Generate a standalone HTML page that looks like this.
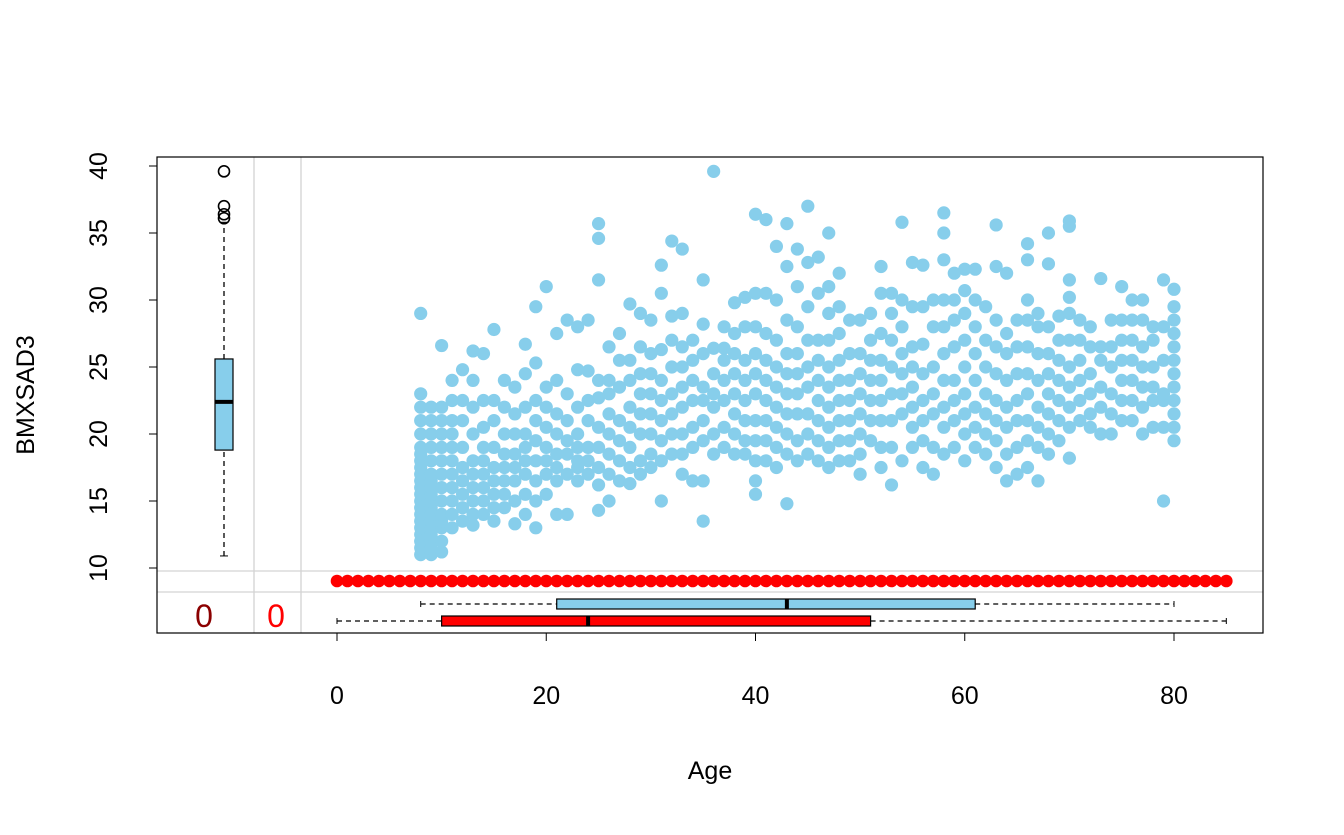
<!DOCTYPE html>
<html><head><meta charset="utf-8"><style>
html,body{margin:0;padding:0;background:#fff;}
svg text{font-family:"Liberation Sans",sans-serif;}
</style></head><body>
<svg id="chart" width="1344" height="830" xmlns="http://www.w3.org/2000/svg">
<rect width="1344" height="830" fill="#fff"/>
<g id="grid"></g>
<g id="pts"></g>
<g id="marg"></g>
<rect x="157" y="157" width="1106" height="476" fill="none" stroke="#000" stroke-width="1.2"/>
<g id="axes"></g>
<text x="0" y="0" transform="translate(34,395) rotate(-90)" text-anchor="middle" font-size="25">BMXSAD3</text>
<text x="710" y="779" text-anchor="middle" font-size="25">Age</text>
<text x="204" y="627" text-anchor="middle" font-size="32" fill="#8B0000">0</text>
<text x="276" y="627" text-anchor="middle" font-size="32" fill="#FF0000">0</text>
</svg>
<script>
const xTicks=[0,20,40,60,80];
const yTicks=[10,15,20,25,30,35,40];
const startAge=8;
const valsByAge=[
"11 11.5 12 12.5 13 13.5 14 14.5 15 15.5 16 16.5 17 17.5 18 18.5 19 20 21 22 23 29",
"11 11.5 12 12.5 13 13.5 14 14.5 15 15.5 16 16.5 17 18 19 20 21 22",
"11.2 12 13 13.5 14 15 16 17 18 19 20 21 22 26.6",
"13 14 15 16 17 18 19 20 21 22.5 24",
"13.5 14.5 15.5 16.5 17.5 19 21 22.5 24.8",
"13.2 14 15 16 17 18 20 22 24 26.2",
"14 15 16 17 18 19 20.5 22.5 26",
"13.5 14.5 15.5 16.5 17.5 19 21 22.5 27.8",
"14.5 15.5 16.5 17.5 18.5 20 22 24",
"13.3 15 16.5 17.5 18.5 20 21.5 23.5",
"14 15.5 17 18 19 20 22 24.5 26.7",
"13 15 16.5 18 19.5 21 22.5 25.3 29.5",
"15.5 17 18 19 20.5 22 23.5 31",
"14 16.5 17.5 18.5 20 21.5 24 27.5",
"14 17 18.5 19.5 21 23 28.5",
"16.5 17.5 18 19 20 22 24.8 28",
"17 18 19 21 22.5 24.7 28.5",
"14.3 16.2 17.5 19 20.5 22.7 24 31.5 34.6 35.7",
"15 17 18.5 20 21.5 23 24 26.5",
"16.5 18 19.5 21 23.5 25.5 27.5",
"16.3 17.5 19 20.5 22 24 25.5 29.7",
"17 18 20 21.5 23 24.5 26.5 29",
"17.5 18.5 20 21.5 23 24.5 26 28.5",
"15 18 19.5 21 22.5 24 26.3 30.5 32.6",
"18.5 20 21.5 23 25 27 28.8 34.4",
"17 18.5 20 22 23.5 25 26.5 29 33.8",
"16.5 19 20.5 22.5 24 25.5 27",
"13.5 16.5 19.5 21 22.5 23.5 26 28.2 31.5",
"18.5 20 22 23 24.5 26.4 39.6",
"19 20.5 22.5 24 25.5 26.4 28",
"18.5 20 21.5 23 24.5 26 27.5 29.8",
"18.5 19.5 21 22.5 24 25.5 28 30.2",
"15.5 16.5 18 19.5 21 23 24.5 26 28 30.5 36.4",
"18 19.5 21 22.5 24 25.5 27.5 30.5 36",
"17.5 19 20.5 22 23.5 25 27 30 34",
"14.8 18.5 20 21.5 23 24.5 26 28.5 32.5 35.7",
"18 19.5 21.5 23 24.5 26 28 31 33.8",
"18.5 20 21.5 23.5 25 27 29.5 32.8 37",
"18 19.5 21 22.5 24 25.5 27 30.5 33.2",
"17.5 19 20.5 22 23.5 25 27 29 31 35",
"18 19.5 21 22.5 24 25.5 27.5 29.5 32",
"18 19.5 21 22.5 24 26 28.5",
"17 18.5 20 21.5 23 24.5 26 28.5",
"19.5 21 22.5 24 25.5 27 29",
"17.5 19 21 22.5 24 25.5 27.5 30.5 32.5",
"16.2 19 21 23 25 27 29 30.5",
"18 21.5 23 24.5 26 28 30 35.8",
"19 20.5 22 23.5 25 26.5 29.5 32.8",
"17.5 19.5 21 22.5 24.5 26.7 29.5 32.6",
"17 19 21.5 23 25 28 30",
"18.5 20.5 22 24 26 28 30 33 35 36.5",
"19 21 22.5 24 26.5 28.5 30 32",
"18 20 21.5 23 25 27 29 30.7 32.3",
"19 20.5 22 24 26 28 30 32.3",
"18.5 20 21.5 23 25 27 29.5",
"17.5 19.5 21 22.5 24.5 26.5 28.5 32.5 35.6",
"16.5 18.5 20.5 22 24 26 27.5 32",
"17 19 21 22.5 24.5 26.5 28.5",
"17.5 19.5 21 23 24.5 26.5 28.5 30 33 34.2",
"16.5 19 20.5 22 24 26 28 29",
"18.5 20 21.5 23 24.5 26 28 32.7 35",
"19.5 21 22.5 24 25.5 27 28.8",
"18.2 20.5 22 23.5 25 27 29 30.2 31.5 35.5 35.9",
"21 22.5 24 25.5 27 28.5",
"20.5 21.5 23 24.5 26.5 28",
"20 22 23.5 25.5 26.5 31.6",
"20 21.5 23 25 26.5 28.5",
"21 22.5 24 25.5 27 28.5 31",
"21 22.5 24 25.5 27 28.5 30",
"20 22 23.5 25 26.5 28.5 30",
"20.5 22.5 23.5 25 27 28",
"15 20.5 22.5 23 25.5 28 31.5",
"19.5 20.5 21.5 22.5 23.5 24.5 25.5 26.5 27.5 28.5 29.5 30.8"
];
const yBox=[10.9,18.8,22.4,25.6,35.8];
const yOutliers=[36.1,36.4,37,39.6];
const xBoxObs=[8,21,43,61,80];
const xBoxMissY=[0,10,24,51,85];
const redAgeMax=85;

const NS="http://www.w3.org/2000/svg";
const X=v=>337+(v-0)*(1174-337)/80;
const Y=v=>568-(v-10)*(568-166)/30;
function mk(p,tag,a){const e=document.createElementNS(NS,tag);for(const k in a)e.setAttribute(k,a[k]);p.appendChild(e);return e;}
const grid=document.getElementById('grid'),pts=document.getElementById('pts'),marg=document.getElementById('marg'),axes=document.getElementById('axes');
[254,301].forEach(x=>{const l=mk(grid,'line',{x1:x,x2:x,y1:157,y2:633,stroke:'#d3d3d3','stroke-width':1.3});

});
[571,592].forEach(y=>{const l=mk(grid,'line',{x1:157,x2:1263,y1:y,y2:y,stroke:'#d3d3d3','stroke-width':1.3});

});
valsByAge.forEach((s,i)=>{const age=startAge+i;s.split(' ').map(Number).forEach(v=>{
const c=mk(pts,'circle',{cx:X(age),cy:Y(v),r:6.6,fill:'#87CEEB'});

});});
for(let a=0;a<=redAgeMax;a++){const c=mk(marg,'circle',{cx:X(a),cy:581,r:6.3,fill:'#FF0000'});

}
const bx=224,bw=9;
mk(marg,'line',{x1:bx,x2:bx,y1:Y(yBox[0]),y2:Y(yBox[1]),stroke:'#000','stroke-width':1.3,'stroke-dasharray':'5,4'});
mk(marg,'line',{x1:bx,x2:bx,y1:Y(yBox[3]),y2:Y(yBox[4]),stroke:'#000','stroke-width':1.3,'stroke-dasharray':'5,4'});
mk(marg,'line',{x1:bx-4,x2:bx+4,y1:Y(yBox[0]),y2:Y(yBox[0]),stroke:'#000'});
mk(marg,'line',{x1:bx-4,x2:bx+4,y1:Y(yBox[4]),y2:Y(yBox[4]),stroke:'#000'});
const lb=mk(marg,'rect',{x:bx-bw,y:Y(yBox[3]),width:2*bw,height:Y(yBox[1])-Y(yBox[3]),fill:'#87CEEB',stroke:'#000','stroke-width':1.2});


mk(marg,'line',{x1:bx-bw,x2:bx+bw,y1:Y(yBox[2]),y2:Y(yBox[2]),stroke:'#000','stroke-width':4});
yOutliers.forEach(v=>{const c=mk(marg,'circle',{cx:bx,cy:Y(v),r:5.5,fill:'none',stroke:'#000','stroke-width':1.6});

});
function hbox(b,cy,fill,name){const h=5;
mk(marg,'line',{x1:X(b[0]),x2:X(b[1]),y1:cy,y2:cy,stroke:'#000','stroke-width':1.3,'stroke-dasharray':'5,4'});
mk(marg,'line',{x1:X(b[3]),x2:X(b[4]),y1:cy,y2:cy,stroke:'#000','stroke-width':1.3,'stroke-dasharray':'5,4'});
mk(marg,'line',{x1:X(b[0]),x2:X(b[0]),y1:cy-3,y2:cy+3,stroke:'#000'});
mk(marg,'line',{x1:X(b[4]),x2:X(b[4]),y1:cy-3,y2:cy+3,stroke:'#000'});
const r=mk(marg,'rect',{x:X(b[1]),y:cy-h,width:X(b[3])-X(b[1]),height:2*h,fill:fill,stroke:'#000','stroke-width':1.2});


mk(marg,'line',{x1:X(b[2]),x2:X(b[2]),y1:cy-h,y2:cy+h,stroke:'#000','stroke-width':4});}
hbox(xBoxObs,604,'#87CEEB','x-observed-boxplot');
hbox(xBoxMissY,621,'#FF0000','x-missing-boxplot');
xTicks.forEach(t=>{mk(axes,'line',{x1:X(t),x2:X(t),y1:633,y2:641,stroke:'#000'});
const tx=mk(axes,'text',{x:X(t),y:704,'text-anchor':'middle','font-size':25});tx.textContent=t;

});
yTicks.forEach(t=>{mk(axes,'line',{x1:149,x2:157,y1:Y(t),y2:Y(t),stroke:'#000'});
const tx=mk(axes,'text',{x:0,y:0,transform:`translate(107,${Y(t)}) rotate(-90)`,'text-anchor':'middle','font-size':25});tx.textContent=t;

});
mk(axes,'line',{x1:157,x2:157,y1:Y(10),y2:Y(40),stroke:'#000'});
</script>
</body></html>
